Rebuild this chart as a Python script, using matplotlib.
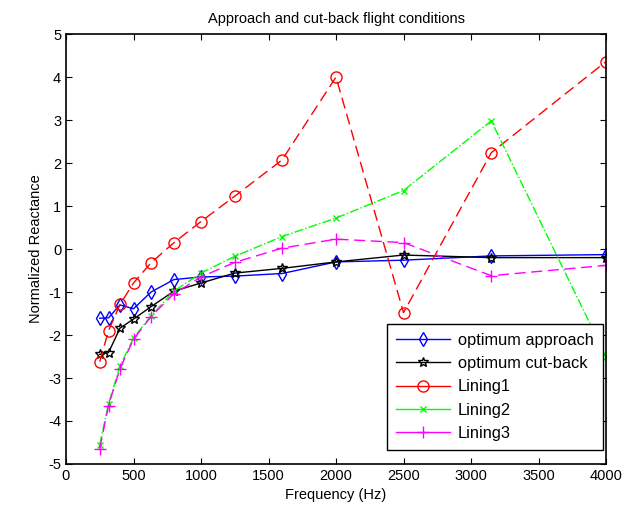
import matplotlib
matplotlib.use("Agg")
import matplotlib.pyplot as plt

plt.rcParams['font.family'] = ['Liberation Sans', 'DejaVu Sans']
plt.rcParams['axes.unicode_minus'] = False

freq = [250, 315, 400, 500, 630, 800, 1000, 1250, 1600, 2000, 2500, 3150, 4000]
opt_approach = [-1.61, -1.60, -1.30, -1.39, -1.00, -0.71, -0.65, -0.63, -0.57, -0.30, -0.26, -0.16, -0.13]
opt_cutback = [-2.45, -2.41, -1.84, -1.63, -1.34, -0.98, -0.79, -0.56, -0.45, -0.30, -0.14, -0.20, -0.20]
lining1 = [-2.62, -1.90, -1.29, -0.79, -0.32, 0.15, 0.64, 1.23, 2.07, 4.00, -1.48, 2.24, 4.36]
lining2 = [-4.55, -3.60, -2.72, -2.07, -1.55, -0.98, -0.56, -0.17, 0.29, 0.72, 1.36, 2.98, -2.50]
lining3 = [-4.64, -3.64, -2.78, -2.10, -1.57, -1.04, -0.65, -0.31, 0.02, 0.23, 0.15, -0.62, -0.38]

fig = plt.figure(figsize=(6.25, 5.16), dpi=100)
ax = fig.add_axes([0.1056, 0.1008, 0.864, 0.8332])

ax.plot(freq, opt_approach, '-', color='#0000ff', marker='d', markersize=7,
        markerfacecolor='none', linewidth=1, label='optimum approach')
ax.plot(freq, opt_cutback, '-', color='black', marker='*', markersize=7,
        markerfacecolor='none', linewidth=1, label='optimum cut-back')
ax.plot(freq, lining1, '--', color='#ff0000', marker='o', markersize=8,
        markerfacecolor='none', linewidth=1, dashes=(8, 4), label='Lining1')
ax.plot(freq, lining2, '-.', color='#00ff00', marker='x', markersize=5,
        linewidth=1, label='Lining2')
ax.plot(freq, lining3, '--', color='#ff00ff', marker='+', markersize=9,
        linewidth=1, dashes=(8, 4), label='Lining3')

ax.set_xlim(0, 4000)
ax.set_ylim(-5, 5)
ax.set_xticks(range(0, 4001, 500))
ax.set_yticks(range(-5, 6, 1))
ax.tick_params(direction='in', top=True, right=True, labelsize=10.5, length=4)
for s in ax.spines.values():
    s.set_linewidth(1.2)

ax.set_title('Approach and cut-back flight conditions', fontsize=10.5, pad=8)
ax.set_xlabel('Frequency (Hz)', fontsize=10.5)
ax.set_ylabel('Normalized Reactance', fontsize=10.5)

leg = ax.legend(loc='lower right', bbox_to_anchor=(0.994, 0.033), fontsize=11.8,
                fancybox=False, framealpha=1, edgecolor='black', borderaxespad=0,
                handlelength=3.3, labelspacing=0.5, borderpad=0.55, handletextpad=0.45)
leg.get_frame().set_linewidth(1)
for ln in leg.get_lines():
    ln.set_linestyle('-')

fig.savefig('out.png', dpi=100)
